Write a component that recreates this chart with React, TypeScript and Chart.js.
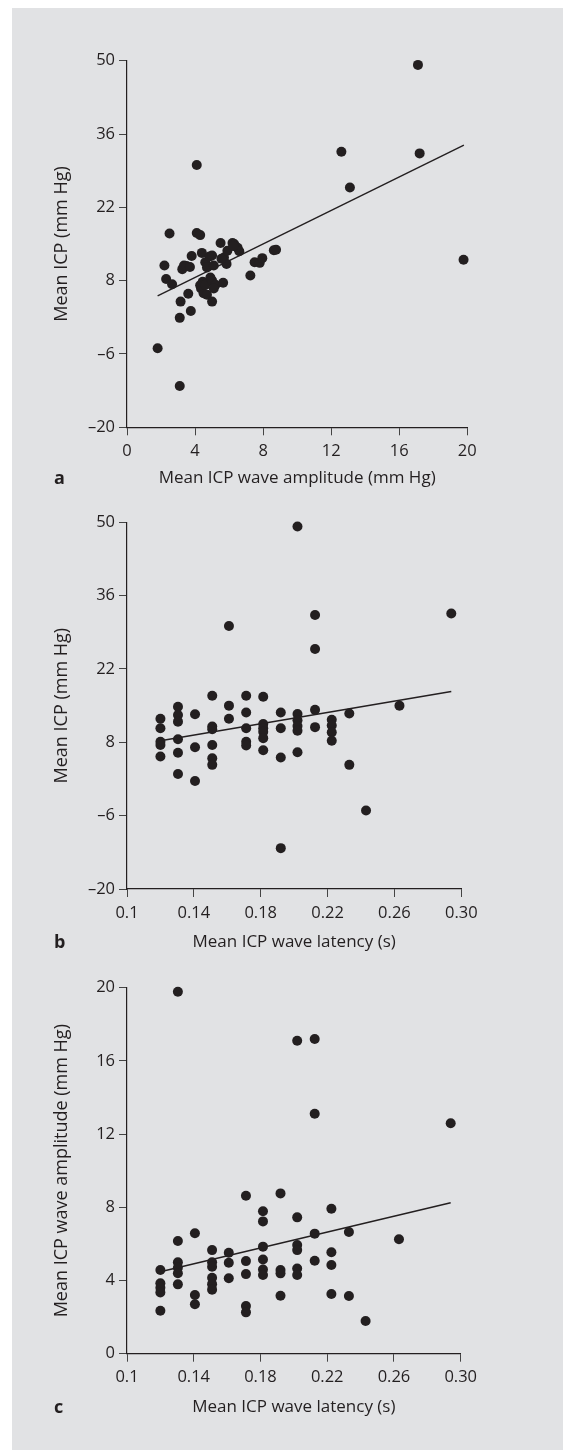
import React, { useEffect, useRef } from 'react';
import { Chart, registerables } from 'chart.js';

Chart.register(...registerables);

const FONT = "'Open Sans', sans-serif";
const INK = '#231f20';
const TICK = '#444444';
const PANEL_BG = '#e1e2e4';

// ---------- Panel a: Mean ICP vs mean ICP wave amplitude ----------
const aAmplitude = [
  1.8, 2.2, 2.3, 2.5, 2.65,
  3.1, 3.1, 3.15, 3.25, 3.35, 3.5, 3.6, 3.7, 3.75, 3.8,
  4.1, 4.1, 4.3, 4.4, 4.6, 4.7, 4.45, 4.35, 4.5, 4.7, 4.3, 4.6, 4.9, 4.85,
  5.0, 5.1, 5.0, 5.2, 5.0, 5.1, 5.5, 5.7, 5.85, 5.65, 5.9, 5.55,
  6.2, 6.3, 6.5, 6.6, 6.25,
  7.25, 7.5, 7.8, 7.95,
  8.63, 8.76,
  12.6, 13.1, 17.1, 17.2, 19.78,
];
const aIcp = [
  -4.9, 10.9, 8.3, 17.0, 7.3,
  -12.1, 0.9, 4.0, 10.2, 10.9, 10.8, 5.5, 10.6, 2.2, 12.7,
  30.1, 17.1, 16.7, 13.3, 11.5, 10.5, 7.8, 6.5, 5.6, 5.3, 7.1, 7.2, 8.6, 12.6,
  12.8, 10.9, 8.0, 7.2, 4.0, 6.5, 15.2, 12.4, 11.2, 7.6, 13.7, 12.2,
  15.2, 15.0, 14.3, 13.6, 14.6,
  9.0, 11.5, 11.4, 12.3,
  13.8, 13.9,
  32.6, 25.8, 49.2, 32.3, 12.0,
];
const aFitX = [1.8, 19.8];
const aFitY = [5.1, 33.9];
const aXTicks = [0, 4, 8, 12, 16, 20];
const aXTickLabels = ['0', '4', '8', '12', '16', '20'];
const icpTicks = [-20, -6, 8, 22, 36, 50];
const icpTickLabels = ['\u201320', '\u20136', '8', '22', '36', '50'];

// ---------- Panel b: Mean ICP vs mean ICP wave latency ----------
const bLatency = [
  0.12, 0.12, 0.12, 0.12, 0.12,
  0.1305, 0.1305, 0.1305, 0.1305, 0.1305, 0.1305,
  0.1407, 0.1407, 0.1407,
  0.151, 0.151, 0.151, 0.151, 0.151, 0.151,
  0.161, 0.161, 0.161,
  0.1713, 0.1713, 0.1713, 0.1713, 0.1713,
  0.1815, 0.1815, 0.1815, 0.1815, 0.1815, 0.1815,
  0.192, 0.192, 0.192, 0.192,
  0.202, 0.202, 0.202, 0.202, 0.202, 0.202,
  0.2125, 0.2125, 0.2125, 0.2125,
  0.2225, 0.2225, 0.2225, 0.2225,
  0.233, 0.233,
  0.243,
  0.263,
  0.294,
];
const bIcp = [
  12.5, 10.7, 8.1, 7.5, 5.3,
  14.8, 13.2, 11.95, 8.6, 6.0, 1.96,
  13.35, 7.05, 0.6,
  16.9, 11.0, 10.5, 7.5, 4.95, 3.7,
  30.2, 15.0, 12.5,
  16.9, 13.7, 10.7, 8.1, 7.4,
  16.7, 11.5, 10.7, 10.0, 8.8, 6.5,
  13.7, 10.7, 5.1, -12.2,
  49.2, 13.4, 12.2, 11.1, 10.2, 6.1,
  32.3, 25.8, 14.2, 10.9,
  12.3, 11.2, 9.9, 8.3,
  13.5, 3.7,
  -5.0,
  15.0,
  32.6,
];
const bFitX = [0.12, 0.294];
const bFitY = [8.3, 17.7];
const latTicks = [0.1, 0.14, 0.18, 0.22, 0.26, 0.3];
const latTickLabels = ['0.1', '0.14', '0.18', '0.22', '0.26', '0.30'];

// ---------- Panel c: wave amplitude vs wave latency ----------
const cLatency = bLatency;
const cAmplitude = [
  4.57, 3.85, 3.6, 3.35, 2.35,
  19.78, 6.16, 5.0, 4.7, 4.4, 3.79,
  6.58, 3.21, 2.7,
  5.66, 5.0, 4.75, 4.15, 3.8, 3.5,
  5.52, 4.97, 4.12,
  8.63, 5.06, 4.35, 2.6, 2.26,
  7.78, 7.23, 5.85, 5.15, 4.6, 4.3,
  8.76, 4.57, 4.39, 3.17,
  17.1, 7.45, 5.94, 5.66, 4.66, 4.3,
  17.2, 13.11, 6.56, 5.08,
  7.92, 5.54, 4.85, 3.26,
  6.65, 3.15,
  1.79,
  6.25,
  12.59,
];
const cFitX = [0.12, 0.294];
const cFitY = [4.48, 8.25];
const ampTicks = [0, 4, 8, 12, 16, 20];
const ampTickLabels = ['0', '4', '8', '12', '16', '20'];

type PanelProps = {
  top: number;
  height: number;
  padTop: number;
  padRight: number;
  padBottom: number;
  xHeight: number;
  xs: number[];
  ys: number[];
  fitX: number[];
  fitY: number[];
  xTicks: number[];
  xLabels: string[];
  yTicks: number[];
  yLabels: string[];
  xTitle: string;
  yTitle: string;
};

function Panel(p: PanelProps) {
  const ref = useRef<HTMLCanvasElement>(null);
  useEffect(() => {
    const tickFont = { family: FONT, size: 16.5 };
    const chart = new Chart(ref.current as HTMLCanvasElement, {
      type: 'scatter',
      data: {
        datasets: [
          {
            data: p.xs.map((x, i) => ({ x, y: p.ys[i] })),
            pointRadius: 5,
            pointHoverRadius: 5,
            backgroundColor: INK,
            borderWidth: 0,
            clip: false,
          } as any,
          {
            type: 'line',
            data: p.fitX.map((x, i) => ({ x, y: p.fitY[i] })),
            borderColor: INK,
            borderWidth: 1.4,
            pointRadius: 0,
            fill: false,
            showLine: true,
            clip: false,
          } as any,
        ],
      },
      options: {
        animation: false,
        responsive: false,
        maintainAspectRatio: false,
        events: [],
        layout: { padding: { left: 0, top: p.padTop, right: p.padRight, bottom: p.padBottom } },
        plugins: { legend: { display: false }, tooltip: { enabled: false }, title: { display: false } },
        scales: {
          x: {
            type: 'linear',
            position: 'bottom',
            min: p.xTicks[0],
            max: p.xTicks[p.xTicks.length - 1],
            afterBuildTicks: (s: any) => {
              s.ticks = p.xTicks.map((v) => ({ value: v }));
            },
            afterFit: (s: any) => {
              s.height = p.xHeight;
            },
            ticks: {
              callback: (_v: any, i: number) => p.xLabels[i],
              color: INK,
              font: tickFont,
              padding: 6,
              maxRotation: 0,
              autoSkip: false,
            },
            grid: { drawOnChartArea: false, drawTicks: true, tickLength: 8, color: TICK, lineWidth: 1 },
            border: { display: true, color: INK, width: 1.2 },
            title: {
              display: true,
              text: p.xTitle,
              color: INK,
              font: { family: FONT, size: 17 },
              padding: { top: 0, bottom: 0 },
            },
          },
          y: {
            type: 'linear',
            position: 'left',
            min: p.yTicks[0],
            max: p.yTicks[p.yTicks.length - 1],
            afterBuildTicks: (s: any) => {
              s.ticks = p.yTicks.map((v) => ({ value: v }));
            },
            afterFit: (s: any) => {
              s.width = 127;
            },
            ticks: {
              callback: (_v: any, i: number) => p.yLabels[i],
              color: INK,
              font: tickFont,
              padding: 4,
              autoSkip: false,
            },
            grid: { drawOnChartArea: false, drawTicks: true, tickLength: 8, color: TICK, lineWidth: 1 },
            border: { display: true, color: INK, width: 1.2 },
            title: {
              display: true,
              text: p.yTitle,
              color: INK,
              font: { family: FONT, size: 18 },
              padding: { top: 51.5, bottom: 0 },
            },
          },
        },
      } as any,
    });
    return () => chart.destroy();
  }, []);
  return (
    <canvas
      ref={ref}
      width={563}
      height={p.height}
      style={{ position: 'absolute', left: 0, top: p.top, width: 563, height: p.height, display: 'block' }}
    />
  );
}

const letterStyle: React.CSSProperties = {
  position: 'absolute',
  left: 54,
  fontFamily: FONT,
  fontWeight: 700,
  fontSize: 18,
  lineHeight: '20px',
  color: INK,
};

export default function App() {
  return (
    <div style={{ position: 'absolute', left: 0, top: 0, width: 563, height: 1455 }}>
      <div style={{ position: 'absolute', left: 12, top: 8, width: 551, height: 1442, background: PANEL_BG }} />
      <Panel
        top={0}
        height={490}
        padTop={60.7}
        padRight={95.7}
        padBottom={1.8}
        xHeight={60.9}
        xs={aAmplitude}
        ys={aIcp}
        fitX={aFitX}
        fitY={aFitY}
        xTicks={aXTicks}
        xLabels={aXTickLabels}
        yTicks={icpTicks}
        yLabels={icpTickLabels}
        xTitle="Mean ICP wave amplitude (mm Hg)"
        yTitle="Mean ICP (mm Hg)"
      />
      <Panel
        top={470}
        height={490}
        padTop={52.3}
        padRight={101.7}
        padBottom={7.8}
        xHeight={63.2}
        xs={bLatency}
        ys={bIcp}
        fitX={bFitX}
        fitY={bFitY}
        xTicks={latTicks}
        xLabels={latTickLabels}
        yTicks={icpTicks}
        yLabels={icpTickLabels}
        xTitle="Mean ICP wave latency (s)"
        yTitle="Mean ICP (mm Hg)"
      />
      <Panel
        top={950}
        height={480}
        padTop={37.7}
        padRight={102.3}
        padBottom={12.8}
        xHeight={63.5}
        xs={cLatency}
        ys={cAmplitude}
        fitX={cFitX}
        fitY={cFitY}
        xTicks={latTicks}
        xLabels={latTickLabels}
        yTicks={ampTicks}
        yLabels={ampTickLabels}
        xTitle="Mean ICP wave latency (s)"
        yTitle="Mean ICP wave amplitude (mm Hg)"
      />
      <div style={{ ...letterStyle, top: 467 }}>a</div>
      <div style={{ ...letterStyle, top: 931 }}>b</div>
      <div style={{ ...letterStyle, top: 1396 }}>c</div>
    </div>
  );
}
